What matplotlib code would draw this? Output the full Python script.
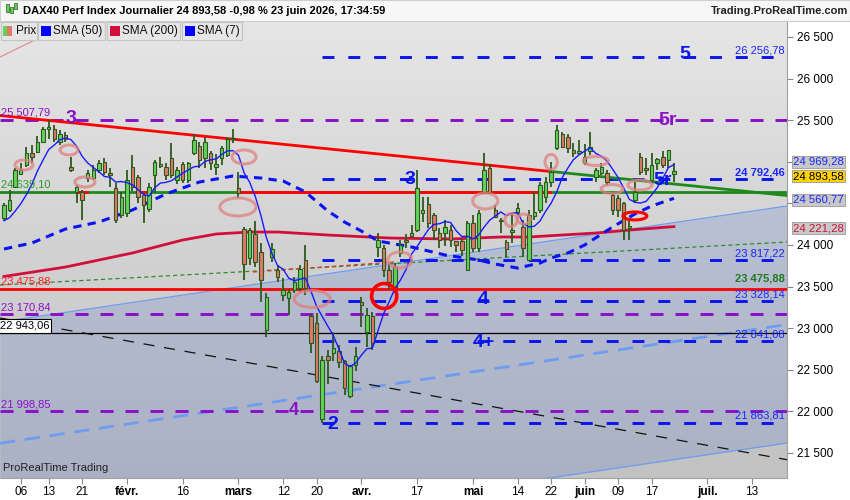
import numpy as np
import pandas as pd
import matplotlib
matplotlib.use("Agg")
import matplotlib.pyplot as plt
from matplotlib.patches import Ellipse, Rectangle
from matplotlib.colors import LinearSegmentedColormap
import matplotlib.transforms as mtrans

plt.rcParams['font.family'] = ['Liberation Sans', 'DejaVu Sans']
plt.rcParams['lines.scale_dashes'] = False

# ---------------- data ----------------
holidays = ['2025-12-31', '2026-01-01', '2026-04-03', '2026-04-06', '2026-05-01']
calendar = pd.bdate_range('2025-12-30', '2026-07-20')
calendar = calendar[~calendar.isin(pd.to_datetime(holidays))]

opens = [24320, 24420, 24700, 24850, 24960, 25100, 25120, 25240, 25390, 25400,
         25240, 25320, 24940, 24640, 24640, 24800, 24800, 24900, 25000, 24860,
         24680, 24360, 24380, 24940, 24820, 24600, 24430, 24840, 24950, 24940,
         25040, 24780, 24970, 24780, 25100, 25190, 25040, 25100, 24940, 25040,
         25080, 25270, 24690, 24190, 23840, 24130, 23920, 22980, 23860, 23700,
         23400, 23360, 23460, 23480, 23820, 23150, 23060, 21910, 22660, 22700,
         22720, 22600, 22180, 22560, 23320, 22960, 23150, 23980, 23960, 23700,
         23500, 23900, 24060, 24110, 24180, 24380, 24490, 24360, 24140, 24140,
         24180, 24050, 24050, 23700, 24260, 23960, 24640, 24920, 24420, 24300,
         24040, 24160, 24380, 24220, 23820, 24350, 24420, 24580, 24760, 25160,
         25340, 25300, 25140, 25100, 24980, 25130, 24820, 24860, 24860, 24600,
         24560, 24500, 24200, 24540, 25060, 24930, 24780, 24980, 25060, 25020,
         24850]
highs = [24500, 24660, 24930, 24990, 25180, 25200, 25310, 25420, 25507.79, 25440,
         25380, 25360, 25060, 24720, 24660, 24900, 24960, 25020, 25040, 24920,
         24740, 24640, 24900, 25080, 24840, 24620, 24740, 25020, 25060, 24990,
         25225, 24940, 25000, 25000, 25330, 25240, 25300, 25130, 25090, 25190,
         25300, 25400, 24880, 24220, 24200, 24290, 24020, 23420, 24020, 23760,
         23600, 23460, 23620, 23760, 24000, 23170, 23180, 22660, 22740, 22950,
         22800, 22620, 22560, 22780, 23380, 23240, 23200, 24150, 24000, 23780,
         23780, 24060, 24130, 24240, 24900, 24580, 24580, 24380, 24210, 24300,
         24240, 24050, 24070, 24290, 24360, 24420, 25100, 24970, 24480, 24330,
         24060, 24380, 24500, 24300, 24420, 24640, 24760, 24820, 25000, 25440,
         25360, 25340, 25230, 25260, 25210, 25360, 24920, 24980, 24900, 24640,
         24600, 24520, 24300, 24760, 25100, 25040, 25100, 25040, 25130, 25140,
         24990]
lows = [24300, 24400, 24680, 24840, 24940, 24980, 25100, 25220, 25280, 25240,
        25200, 25240, 24880, 24500, 24300, 24760, 24780, 24860, 24840, 24700,
        24260, 24320, 24340, 24650, 24500, 24264, 24400, 24620, 24920, 24780,
        24800, 24730, 24740, 24740, 25080, 24920, 24930, 24900, 24840, 24960,
        25060, 25220, 24560, 23580, 23760, 23740, 23320, 22900, 23800, 23560,
        23330, 23160, 23420, 23440, 23400, 22700, 22340, 21863.81, 22330, 22610,
        22520, 22200, 22160, 22480, 23020, 22770, 22740, 23850, 23620, 23470,
        23420, 23860, 23960, 24100, 24160, 24280, 24200, 24060, 23960, 23990,
        23970, 23910, 23870, 23700, 23920, 23920, 24620, 24620, 24340, 24140,
        23860, 24020, 24360, 23860, 23820, 24300, 24380, 24500, 24700, 25140,
        25160, 25100, 25060, 25080, 24960, 25080, 24760, 24840, 24720, 24360,
        24340, 24060, 24060, 24500, 24840, 24840, 24740, 24900, 24920, 24920,
        24760]
closes = [24480, 24540, 24900, 24900, 25110, 25060, 25240, 25400, 25420, 25280,
          25340, 25280, 24900, 24700, 24540, 24860, 24900, 24980, 24880, 24840,
          24300, 24580, 24780, 24700, 24580, 24480, 24700, 25000, 24970, 24840,
          24840, 24900, 24780, 24990, 25260, 25020, 25240, 24980, 24970, 25160,
          25280, 25290, 24630, 23770, 24180, 23790, 23580, 23380, 23950, 23620,
          23460, 23440, 23560, 23710, 23480, 22820, 22360, 22620, 22620, 22760,
          22590, 22280, 22540, 22660, 23280, 23160, 22820, 24060, 23700, 23560,
          23740, 24000, 24040, 24140, 24690, 24420, 24260, 24180, 24060, 24220,
          24060, 24000, 23940, 24270, 23960, 24380, 24900, 24640, 24340, 24290,
          23950, 24180, 24440, 23960, 24360, 24400, 24720, 24760, 24880, 25380,
          25180, 25160, 25100, 25130, 25060, 25180, 24900, 24940, 24760, 24420,
          24420, 24180, 24230, 24640, 24880, 24900, 24960, 25030, 24960, 25140,
          24893.58]
prior_closes = [24290, 24340, 24280, 24350, 24180, 24120]   # last sessions of Dec 2025 (SMA7 seed)

# SMA(50) and SMA(200) (session index, value)
sma50_idx = [0, 5, 11, 17, 23, 29, 35, 41, 46, 50, 54, 58, 61, 64, 67, 73, 79, 85,
             88, 92, 96, 98, 101, 104, 109, 113, 116, 120]
sma50_val = [23952, 24024, 24192, 24276, 24421, 24613, 24757, 24829, 24805, 24769,
             24637, 24409, 24276, 24168, 24048, 23976, 23880, 23820, 23771, 23723,
             23783, 23844, 23904, 24000, 24216, 24373, 24469, 24560.77]
sma200_idx = [0, 11, 23, 32, 38, 44, 49, 58, 69, 80, 89, 94, 106, 112, 120]
sma200_val = [23622, 23735, 23904, 24060, 24132, 24156, 24156, 24120, 24084, 24072,
              24096, 24096, 24144, 24180, 24221.28]

# last values shown in the boxes on the price axis
last_labels = ['24 969,28', '24 893,58', '24 560,77', '24 221,28']

# horizontal levels
purple_levels = [25507.79, 23170.84, 21998.85]
blue_levels = [26256.78, 24792.46, 23817.22, 23328.14, 22841.08, 21863.81]
blue_labels = ['26 256,78', '24 792,46', '23 817,22', '23 328,14', '22 841,08', '21 863,81']
red_level = 23475.88
green_level = 24639.10
black_level = 22943.06

# trend lines (session index, price)
trend_main = [(-0.72, 25556.5), (140.25, 24595.0)]
channel_up = [(-0.72, 23074.6), (140.25, 24468.8)]
channel_low = [(-0.72, 20226.0), (140.25, 21620.3)]
green_dotted = [(-0.72, 23519.3), (140.25, 24036.1)]
red_dotted = [(44.6, 23675.5), (70.0, 23795.7)]
black_dashed = [(-0.72, 23122.7), (140.25, 21419.6)]
lightblue_dashed = [(-0.72, 21616.7), (140.25, 23044.5)]
pink_line = [(-0.72, 26259.6), (7.35, 26524.0)]

# highlighted zones (session index, price, width in sessions, height in points)
pink_marks = [(3.58, 24962, 3.2, 120), (11.64, 25142, 3.2, 120), (14.5, 24757, 3.6, 120),
              (43.0, 25058, 4.3, 168), (41.9, 24457, 6.45, 216), (55.2, 23351, 6.45, 204),
              (70.9, 23820, 4.3, 192), (86.2, 24529, 4.5, 192), (90.8, 24300, 2.2, 156),
              (93.1, 24312, 2.3, 120), (98.0, 24998, 2.2, 180), (106.0, 25010, 4.5, 108),
              (108.9, 24673, 3.9, 108), (113.9, 24721, 4.3, 120)]
red_marks = [(113.0, 24349, 4.3, 96, 2.2), (68.1, 23387, 4.5, 300, 2.6)]

tick_dates = ['2026-01-06', '2026-01-13', '2026-01-21', '2026-02-02', '2026-02-16',
              '2026-03-02', '2026-03-12', '2026-03-20', '2026-04-01', '2026-04-17',
              '2026-05-04', '2026-05-14', '2026-05-22', '2026-06-01', '2026-06-09',
              '2026-06-17', '2026-07-01', '2026-07-13']
tick_labels = ['06', '13', '21', 'févr.', '16', 'mars', '12', '20', 'avr.', '17',
               'mai', '14', '22', 'juin', '09', '17', 'juil.', '13']

# ---------------- figure ----------------
W, H = 850, 500
fig = plt.figure(figsize=(W / 100, H / 100), dpi=100)
fig.patch.set_facecolor('white')
ax = fig.add_axes([0, 22 / H, 787 / W, 458 / H])
XMIN, XMAX = -0.7165, 140.25
YMIN, YMAX = 21199.5, 26704.3
ax.set_xlim(XMIN, XMAX)
ax.set_ylim(YMIN, YMAX)

# background gradient
cmap = LinearSegmentedColormap.from_list('bg', ['#c2c2c2', '#d2d2d2', '#e6e6e6'])
grad = np.linspace(0, 1, 256).reshape(-1, 1)
ax.imshow(grad, extent=[XMIN, XMAX, YMIN, YMAX], origin='lower', aspect='auto',
          cmap=cmap, zorder=0)
cx = [channel_up[0][0], channel_up[1][0]]
ax.fill_between(cx, [channel_low[0][1], channel_low[1][1]],
                [channel_up[0][1], channel_up[1][1]], color='#5a78cc', alpha=0.22,
                lw=0, zorder=0.5)

def seg(pts, **kw):
    ax.plot([pts[0][0], pts[1][0]], [pts[0][1], pts[1][1]], **kw)

seg(channel_up, color='#6f9cf0', lw=0.9, zorder=1)
seg(channel_low, color='#6f9cf0', lw=0.9, zorder=1)
seg(pink_line, color='#e89090', lw=0.9, zorder=1)
seg(lightblue_dashed, color='#6f9cf0', lw=2.0, ls=(0, (11, 7)), zorder=1)
seg(black_dashed, color='#111111', lw=0.9, ls=(0, (8, 7)), zorder=1)
seg(green_dotted, color='#2e8b2e', lw=0.9, ls=(0, (3, 2.2)), zorder=1.2)
seg(red_dotted, color='#e03030', lw=0.9, ls=(0, (3, 2.2)), zorder=1.3)

# horizontal levels
for lv in purple_levels:
    ax.plot([XMIN, XMAX], [lv, lv], color='#8a10c8', lw=2.1, ls=(0, (9.4, 8.6)), zorder=1.5)
x_blue0, x_blue1 = 57, 138.45
for lv in blue_levels:
    ax.plot([x_blue0, x_blue1], [lv, lv], color='#0a14f0', lw=2.1, ls=(0, (8.6, 10)), zorder=1.5)
ax.plot([XMIN, XMAX], [red_level, red_level], color='#ff0000', lw=2.0, zorder=1.6)
ax.plot([XMIN, XMAX], [black_level, black_level], color='#000000', lw=0.9, zorder=1.6)
ax.plot([XMIN, XMAX], [green_level, green_level], color='#1e8a1e', lw=2.0, zorder=1.6)
ax.plot([41.9, 97.8], [green_level, green_level], color='#ff0000', lw=2.0, zorder=1.7)
for a, b in [(13.1, 14.9), (23.8, 26.2)]:
    ax.plot([a, b], [green_level, green_level], color='#ff0000', lw=2.0, zorder=1.7)

# main trend line: red then green
t0, t1 = trend_main
slope = (t1[1] - t0[1]) / (t1[0] - t0[0])
xb = 97.8
yb = t0[1] + slope * (xb - t0[0])
ax.plot([t0[0], xb], [t0[1], yb], color='#ff0000', lw=2.0, zorder=1.8)
ax.plot([xb, t1[0]], [yb, t1[1]], color='#1e8a1e', lw=2.0, zorder=1.8)

# moving averages
all_closes = pd.Series(prior_closes + closes)
sma7 = all_closes.rolling(7).mean().iloc[len(prior_closes):].to_numpy()
idx = np.arange(len(closes))
ax.plot(sma200_idx, sma200_val, color='#d0103a', lw=2.0, zorder=2)
ax.plot(sma50_idx, sma50_val, color='#0a14f0', lw=2.2, ls=(0, (6, 4.5)), zorder=2)

# candles
o = np.array(opens); h = np.array(highs); l = np.array(lows); c = np.array(closes)
up = c >= o
edge = '#2d5a1c'
ax.vlines(idx, l, h, color=edge, lw=1.3, zorder=3)
ax.bar(idx[up], (c - o)[up], bottom=o[up], width=0.62, color='#5fd35a', edgecolor=edge,
       lw=0.8, zorder=3.2)
ax.bar(idx[~up], (o - c)[~up], bottom=c[~up], width=0.62, color='#e4776a', edgecolor=edge,
       lw=0.8, zorder=3.2)
ax.plot(idx, sma7, color='#1a1aff', lw=1.0, zorder=3.5)

# highlighted zones
for (ex, ey, ew, eh) in pink_marks:
    ax.add_patch(Ellipse((ex, ey), ew, eh, fill=False, ec='#e08080', lw=2.2, alpha=0.75, zorder=4))
for (ex, ey, ew, eh, lw) in red_marks:
    ax.add_patch(Ellipse((ex, ey), ew, eh, fill=False, ec='#ff0000', lw=lw, zorder=4.1))

# level labels (left)
off = 22
left_x = -0.45
ax.text(left_x, purple_levels[0] + off, '25 507,79', color='#8a10c8', fontsize=8, va='bottom', zorder=5)
ax.text(left_x, green_level + off, '24 639,10', color='#2e9a2e', fontsize=8, va='bottom', zorder=5)
ax.text(left_x, red_level + off, '23 475,88', color='#ff2020', fontsize=8, va='bottom', zorder=5)
ax.text(left_x, purple_levels[1] + off, '23 170,84', color='#8a10c8', fontsize=8, va='bottom', zorder=5)
ax.text(left_x, purple_levels[2] + off, '21 998,85', color='#8a10c8', fontsize=8, va='bottom', zorder=5)
ax.text(XMIN + 0.05, black_level + 25, '22 943,06', color='black', fontsize=8, va='bottom', zorder=5,
        bbox=dict(boxstyle='square,pad=0.15', fc='white', ec='black', lw=0.8))

# level labels (right)
right_x = 139.9
for lv, lab in zip(blue_levels, blue_labels):
    ax.text(right_x, lv + off, lab, color='#1a28ff', fontsize=8, ha='right', va='bottom',
            fontweight='bold' if lab == '24 792,46' else 'normal', zorder=5)
ax.text(right_x, red_level + off + 40, '23 475,88', color='#1e7a1e', fontsize=8, ha='right',
        va='bottom', fontweight='bold', zorder=5)

# wave labels
def wave(x, y, s, col, fs=14):
    ax.text(x, y, s, color=col, fontsize=fs, fontweight='bold', ha='center', va='center', zorder=5)

wave(12.0, 25526, '3', '#8a10c8')
wave(51.9, 22005, '4', '#8a10c8', 13)
wave(118.9, 25502, '5r', '#8a10c8')
wave(58.9, 21842, '2', '#0a14f0')
wave(72.8, 24790, '3', '#0a14f0')
wave(85.8, 23339, '4', '#0a14f0')
wave(86.0, 22834, '4+', '#0a14f0')
wave(122.0, 26284, '5', '#0a14f0')
wave(118.0, 24781, '5r', '#0a14f0')

ax.text(0.004, 0.01, 'ProRealTime Trading', transform=ax.transAxes, fontsize=8,
        color='#222222', va='bottom', zorder=5)

# axes styling
for s in ['top', 'left']:
    ax.spines[s].set_visible(False)
ax.spines['right'].set_color('#a0a0a0')
ax.spines['bottom'].set_color('#a0a0a0')
ax.yaxis.tick_right()
yt = np.arange(21500, 26501, 500)
ax.set_yticks(yt)
# the 25 000 and 24 500 labels are hidden behind the value boxes in the reference
hidden = (25000, 24500)
ax.set_yticklabels(['' if v in hidden else f'{v:,}'.replace(',', ' ') for v in yt])
ax.tick_params(axis='y', direction='out', length=4, color='#888888', labelsize=8.5, pad=3)

tick_pos = [calendar.get_loc(pd.Timestamp(d)) for d in tick_dates]
ax.set_xticks(tick_pos)
ax.set_xticklabels(tick_labels)
ax.tick_params(axis='x', direction='out', length=4, color='#888888', labelsize=8.5, pad=2)
for lab in ax.get_xticklabels():
    if not lab.get_text().isdigit():
        lab.set_fontweight('bold')

# value boxes on the right axis (box centres in price units)
tr = mtrans.blended_transform_factory(ax.transAxes, ax.transData)
box_style = [('#1a28ff', '#c8c8c8'), ('#000000', '#ffd200'),
             ('#1a28ff', '#c8c8c8'), ('#d0103a', '#c8c8c8')]
box_y = [25000, 24828, 24545, 24200]
for lab, (tc, fc), yy in zip(last_labels, box_style, box_y):
    ax.text(1.008, yy, lab, transform=tr, color=tc, fontsize=8.2, va='center', ha='left',
            clip_on=False, zorder=6,
            bbox=dict(boxstyle='square,pad=0.1', fc=fc, ec='#999999', lw=0.6))

# header
fig.patches.append(Rectangle((0, 1 - 21 / H), 1, 21 / H, transform=fig.transFigure,
                             fc='#f7f7f7', ec='#cfcfcf', lw=0.8, zorder=10))
fig.text(23 / W, 1 - 11 / H, 'DAX40 Perf Index Journalier 24 893,58 -0,98 % 23 juin 2026, 17:34:59',
         fontsize=8, fontweight='bold', va='center', ha='left', zorder=11)
fig.text(848 / W, 1 - 11 / H, 'Trading.ProRealTime.com', fontsize=8, fontweight='bold',
         va='center', ha='right', color='#222222', zorder=11)
# small candle icon
for i, (yb0, yb1, col) in enumerate([(4, 12, '#5fd35a'), (7, 13, '#5fd35a'), (3, 9, '#5fd35a')]):
    xx = 6 + i * 4
    fig.patches.append(Rectangle((xx / W, 1 - yb1 / H), 2.5 / W, (yb1 - yb0) / H,
                                 transform=fig.transFigure, fc=col, ec='#2d5a1c', lw=0.5, zorder=11))

legend_items = [('Prix', None, 1, 37), ('SMA (50)', '#0000ff', 38, 105),
                ('SMA (200)', '#d0103a', 107, 180), ('SMA (7)', '#0000ff', 182, 242)]
for txt, col, x0, x1 in legend_items:
    fig.patches.append(Rectangle((x0 / W, 1 - 40 / H), (x1 - x0) / W, 18 / H,
                                 transform=fig.transFigure, fc='#e6e6e6', ec='#c4c4c4',
                                 lw=0.8, zorder=10))
    if col is None:
        fig.patches.append(Rectangle(((x0 + 2) / W, 1 - 36 / H), 4 / W, 10 / H,
                                     transform=fig.transFigure, fc='#5fd35a', lw=0, zorder=11))
        fig.patches.append(Rectangle(((x0 + 6) / W, 1 - 36 / H), 5 / W, 10 / H,
                                     transform=fig.transFigure, fc='#e4776a', lw=0, zorder=11))
    else:
        fig.patches.append(Rectangle(((x0 + 3) / W, 1 - 36 / H), 10 / W, 10 / H,
                                     transform=fig.transFigure, fc=col, lw=0, zorder=11))
    fig.text((x0 + 15) / W, 1 - 31 / H, txt, fontsize=8.5, va='center', ha='left', zorder=11,
             color='#111111')

fig.savefig('out.png', dpi=100)
